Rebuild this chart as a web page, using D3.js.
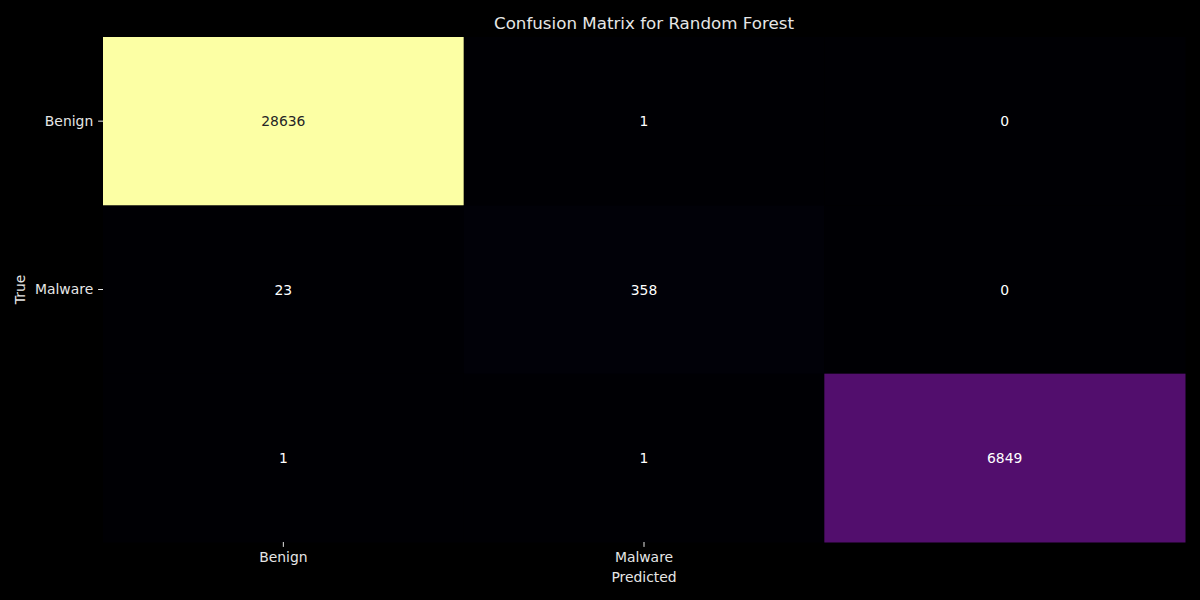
<!DOCTYPE html>
<html>
<head>
<meta charset="utf-8">
<script src="https://cdn.jsdelivr.net/npm/d3@7"></script>
<style>
  html, body { margin: 0; padding: 0; background: #000; }
  svg { display: block; font-family: "DejaVu Sans", sans-serif; }
</style>
</head>
<body>
<div id="chart"></div>
<script>
// confusion matrix data
var trueLabels = ['Benign', 'Malware', ''];
var predLabels = ['Benign', 'Malware', ''];
var row0 = [28636, 1, 0];
var row1 = [23, 358, 0];
var row2 = [1, 1, 6849];
var matrix = [row0, row1, row2];

var width = 1200;
var height = 600;
var margin = {top: 37, right: 15, bottom: 58, left: 103};
var fs = '13.9px';

var cells = [];
matrix.forEach(function (row, i) {
  row.forEach(function (v, j) {
    cells.push({r: i, c: j, value: v});
  });
});

var maxVal = d3.max(cells, function (d) { return d.value; });

var x = d3.scaleBand().domain(d3.range(predLabels.length)).range([margin.left, width - margin.right]);
var y = d3.scaleBand().domain(d3.range(trueLabels.length)).range([margin.top, height - margin.bottom]);
var color = d3.scaleSequential(d3.interpolateInferno).domain([0, maxVal]);

var svg = d3.select('#chart').append('svg')
  .attr('width', width)
  .attr('height', height);

svg.append('rect').attr('width', width).attr('height', height).attr('fill', '#000');

svg.selectAll('rect.cell').data(cells).join('rect')
  .attr('class', 'cell')
  .attr('x', function (d) { return x(d.c); })
  .attr('y', function (d) { return y(d.r); })
  .attr('width', x.bandwidth() + 0.5)
  .attr('height', y.bandwidth() + 0.5)
  .attr('fill', function (d) { return color(d.value); });

svg.selectAll('text.annot').data(cells).join('text')
  .attr('class', 'annot')
  .attr('x', function (d) { return x(d.c) + x.bandwidth() / 2; })
  .attr('y', function (d) { return y(d.r) + y.bandwidth() / 2; })
  .attr('text-anchor', 'middle')
  .attr('dominant-baseline', 'central')
  .attr('font-size', fs)
  .attr('fill', function (d) { return d.value / maxVal > 0.5 ? '#262626' : '#ffffff'; })
  .text(function (d) { return d.value; });

// x axis
var xAxis = svg.append('g')
  .attr('transform', 'translate(0,' + (height - margin.bottom) + ')')
  .call(d3.axisBottom(x).tickSize(4.9).tickPadding(4.9).tickFormat(function (i) { return predLabels[i]; }));
xAxis.select('.domain').remove();
xAxis.selectAll('.tick line').attr('stroke', '#e6e6e6').attr('stroke-width', 1)
  .style('display', function (i) { return predLabels[i] ? null : 'none'; });
xAxis.selectAll('.tick text').attr('fill', '#e6e6e6').attr('font-size', fs).attr('font-family', 'DejaVu Sans');

// y axis
var yAxis = svg.append('g')
  .attr('transform', 'translate(' + margin.left + ',0)')
  .call(d3.axisLeft(y).tickSize(4.9).tickPadding(4.9).tickFormat(function (i) { return trueLabels[i]; }));
yAxis.select('.domain').remove();
yAxis.selectAll('.tick line').attr('stroke', '#e6e6e6').attr('stroke-width', 1)
  .style('display', function (i) { return trueLabels[i] ? null : 'none'; });
yAxis.selectAll('.tick text').attr('fill', '#e6e6e6').attr('font-size', fs).attr('font-family', 'DejaVu Sans');

// labels and title
svg.append('text')
  .attr('x', x(1) + x.bandwidth() / 2)
  .attr('y', 582)
  .attr('text-anchor', 'middle')
  .attr('fill', '#e6e6e6')
  .attr('font-size', fs)
  .text('Predicted');

svg.append('text')
  .attr('transform', 'translate(25,' + (y(1) + y.bandwidth() / 2) + ') rotate(-90)')
  .attr('text-anchor', 'middle')
  .attr('fill', '#e6e6e6')
  .attr('font-size', fs)
  .text('True');

svg.append('text')
  .attr('x', (margin.left + width - margin.right) / 2)
  .attr('y', 29)
  .attr('text-anchor', 'middle')
  .attr('fill', '#e6e6e6')
  .attr('font-size', '16.7px')
  .text('Confusion Matrix for Random Forest');
</script>
</body>
</html>
